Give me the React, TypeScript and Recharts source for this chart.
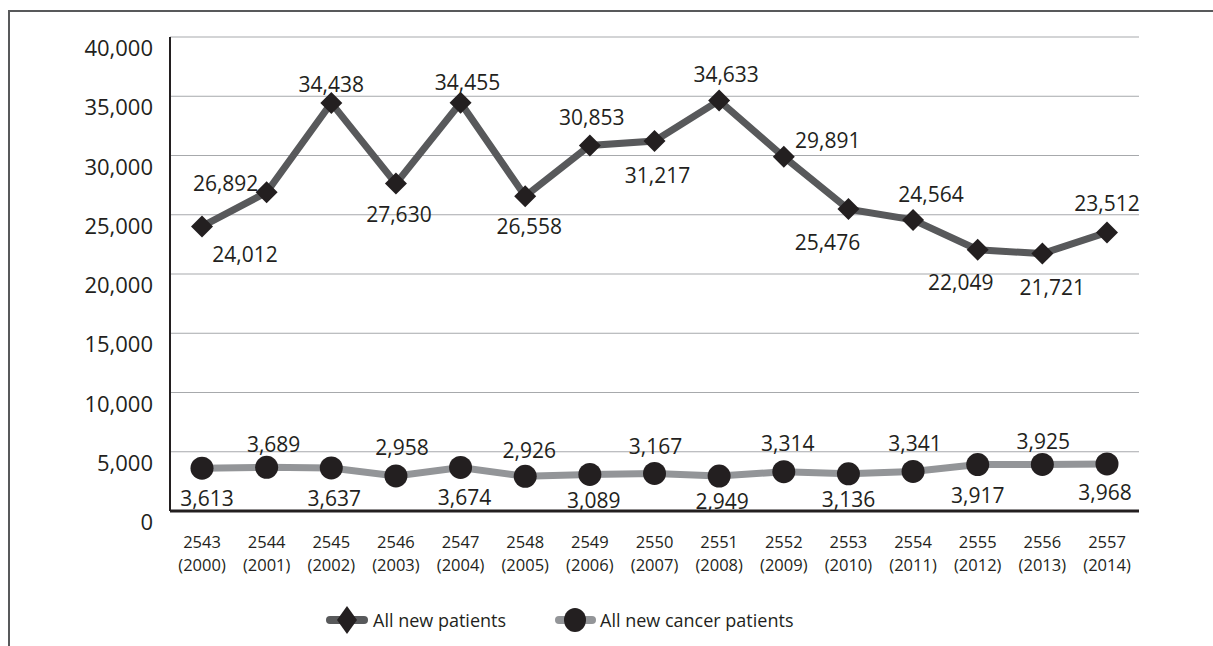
import { LineChart, Line, XAxis, YAxis, CartesianGrid, LabelList } from "recharts";

const years = ["2543", "2544", "2545", "2546", "2547", "2548", "2549", "2550", "2551", "2552", "2553", "2554", "2555", "2556", "2557"];
const yearsAD = ["2000", "2001", "2002", "2003", "2004", "2005", "2006", "2007", "2008", "2009", "2010", "2011", "2012", "2013", "2014"];
const allNewPatients = [24012, 26892, 34438, 27630, 34455, 26558, 30853, 31217, 34633, 29891, 25476, 24564, 22049, 21721, 23512];
const newCancerPatients = [3613, 3689, 3637, 2958, 3674, 2926, 3089, 3167, 2949, 3314, 3136, 3341, 3917, 3925, 3968];
const yTicks = [0, 5000, 10000, 15000, 20000, 25000, 30000, 35000, 40000];

// where each value label sits relative to its point (dx, dy)
const patientLabelOffsets = [
  [43, 28], [-41, -9], [0, -19], [3, 30], [7, -21], [4, 30], [2, -28], [3, 34],
  [7, -27], [44, -17], [-21, 33], [18, -26], [-17, 32], [10, 33], [0, -29],
];
const cancerLabelOffsets = [
  [5, 30], [7, -23], [3, 30], [6, -29], [4, 30], [4, -26], [4, 26], [1, -27],
  [3, 25], [4, -29], [0, 25], [2, -28], [0, 30], [1, -23], [-2, 28],
];

const data = years.map((y, i) => ({
  year: y,
  ad: yearsAD[i],
  patients: allNewPatients[i],
  cancer: newCancerPatients[i],
}));

const FONT = "'Open Sans', 'Noto Sans', sans-serif";
const INK = "#231f20";
const DARK = "#58595b";
const LIGHT = "#939598";

const fmt = (v: number) => v.toLocaleString("en-US");

const Diamond = (props: any) => {
  const { cx, cy } = props;
  if (cx == null || cy == null) return null;
  const s = 11;
  return <path d={`M${cx},${cy - s} L${cx + s},${cy} L${cx},${cy + s} L${cx - s},${cy} Z`} fill={INK} />;
};

const Dot = (props: any) => {
  const { cx, cy } = props;
  if (cx == null || cy == null) return null;
  return <circle cx={cx} cy={cy} r={11.5} fill={INK} />;
};

const makeLabel = (offsets: number[][]) => (props: any) => {
  const { x, y, value, index } = props;
  const [dx, dy] = offsets[index] || [0, -20];
  return (
    <text x={x + dx} y={y + dy} textAnchor="middle" dominantBaseline="central" fontFamily={FONT} fontSize={21} fill={INK}>
      {fmt(value)}
    </text>
  );
};

const YTick = (props: any) => {
  const { y, payload } = props;
  return (
    <text x={153} y={y + 10} textAnchor="end" dominantBaseline="central" fontFamily={FONT} fontSize={22} fill={INK}>
      {fmt(payload.value)}
    </text>
  );
};

const XTick = (props: any) => {
  const { x, y, payload, index } = props;
  return (
    <text x={x} textAnchor="middle" fontFamily={FONT} fontSize={16.5} fill={INK}>
      <tspan x={x} y={y + 22} dominantBaseline="central">{payload.value}</tspan>
      <tspan x={x} y={y + 45} dominantBaseline="central">({yearsAD[index]})</tspan>
    </text>
  );
};

export default function App() {
  return (
    <div style={{ position: "absolute", left: 0, top: 0, width: 1213, height: 646, background: "#fff", overflow: "hidden" }}>
      <div
        style={{
          position: "absolute",
          left: 8,
          top: 10,
          width: 1213,
          height: 700,
          borderTop: `2px solid ${DARK}`,
          borderLeft: `2px solid ${DARK}`,
        }}
      />
      <div style={{ position: "absolute", left: 0, top: 0 }}>
        <LineChart width={1213} height={646} data={data} margin={{ top: 37, right: 74, left: 70, bottom: 75 }}>
          <CartesianGrid vertical={false} stroke="#a7a9ac" strokeWidth={1} />
          <XAxis
            dataKey="year"
            height={60}
            tick={<XTick />}
            tickLine={false}
            axisLine={{ stroke: INK, strokeWidth: 3 }}
            interval={0}
            padding={{ left: 32, right: 32 }}
          />
          <YAxis
            width={100}
            domain={[0, 40000]}
            ticks={yTicks}
            tick={<YTick />}
            tickLine={false}
            axisLine={{ stroke: INK, strokeWidth: 2 }}
          />
          <Line
            dataKey="patients"
            stroke={DARK}
            strokeWidth={7}
            dot={<Diamond />}
            activeDot={false}
            isAnimationActive={false}
          >
            <LabelList dataKey="patients" content={makeLabel(patientLabelOffsets)} />
          </Line>
          <Line
            dataKey="cancer"
            stroke={LIGHT}
            strokeWidth={7}
            dot={<Dot />}
            activeDot={false}
            isAnimationActive={false}
          >
            <LabelList dataKey="cancer" content={makeLabel(cancerLabelOffsets)} />
          </Line>
        </LineChart>
      </div>
      <svg style={{ position: "absolute", left: 0, top: 600 }} width={1213} height={40}>
        <line x1={330} x2={364} y1={20} y2={20} stroke={DARK} strokeWidth={8} strokeLinecap="round" />
        <path d="M347,6 L357,20 L347,34 L337,20 Z" fill={INK} />
        <text x={373} y={20} dominantBaseline="central" fontFamily={FONT} fontSize={18} fill={INK}>
          All new patients
        </text>
        <line x1={559} x2={592} y1={20} y2={20} stroke={LIGHT} strokeWidth={8} strokeLinecap="round" />
        <ellipse cx={575} cy={20} rx={11} ry={12} fill={INK} />
        <text x={600} y={20} dominantBaseline="central" fontFamily={FONT} fontSize={18} fill={INK}>
          All new cancer patients
        </text>
      </svg>
    </div>
  );
}
